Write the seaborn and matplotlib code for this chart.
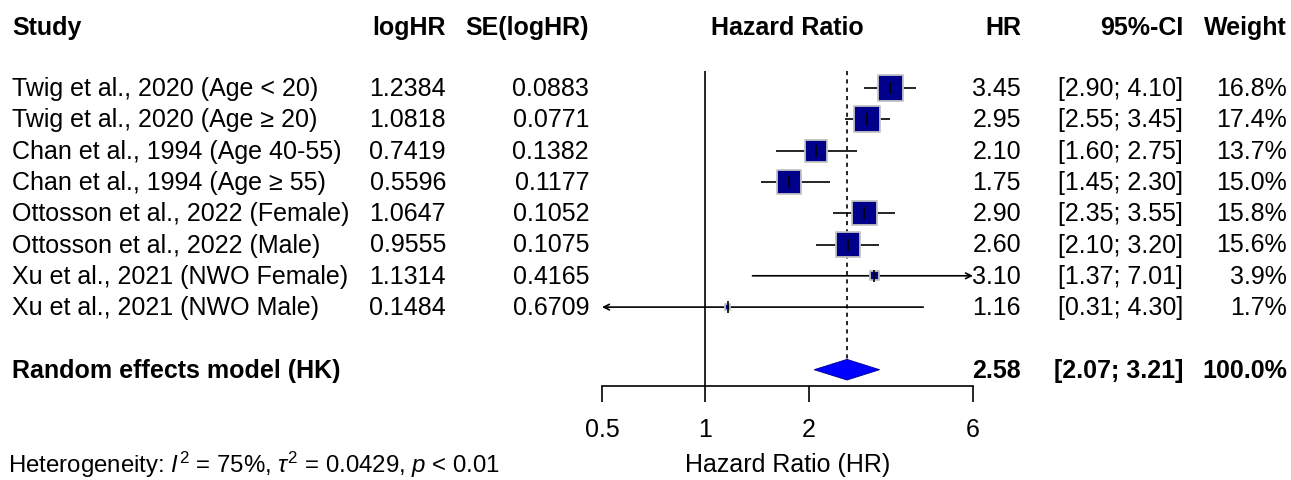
import numpy as np
import pandas as pd
import seaborn as sns
import matplotlib.pyplot as plt
import matplotlib.transforms as mtransforms

studies = ["Twig et al., 2020 (Age < 20)", "Twig et al., 2020 (Age \u2265 20)",
           "Chan et al., 1994 (Age 40-55)", "Chan et al., 1994 (Age \u2265 55)",
           "Ottosson et al., 2022 (Female)", "Ottosson et al., 2022 (Male)",
           "Xu et al., 2021 (NWO Female)", "Xu et al., 2021 (NWO Male)"]
log_hr = ["1.2384", "1.0818", "0.7419", "0.5596", "1.0647", "0.9555", "1.1314", "0.1484"]
se_log_hr = ["0.0883", "0.0771", "0.1382", "0.1177", "0.1052", "0.1075", "0.4165", "0.6709"]
hr = [3.45, 2.95, 2.10, 1.75, 2.90, 2.60, 3.10, 1.16]
ci_lower = [2.90, 2.55, 1.60, 1.45, 2.35, 2.10, 1.37, 0.31]
ci_upper = [4.10, 3.45, 2.75, 2.30, 3.55, 3.20, 7.01, 4.30]
weights = [16.8, 17.4, 13.7, 15.0, 15.8, 15.6, 3.9, 1.7]

pooled_label = "Random effects model (HK)"
pooled_hr = 2.58
pooled_lower = 2.07
pooled_upper = 3.21
x_ticks = [0.5, 1, 2, 6]
x_min, x_max = 0.5, 6

sns.set_style("white")
plt.rcParams['font.family'] = ['Liberation Sans', 'DejaVu Sans']
plt.rcParams['mathtext.fontset'] = 'custom'
plt.rcParams['mathtext.rm'] = 'Liberation Sans'
plt.rcParams['mathtext.it'] = 'Liberation Sans:italic'
plt.rcParams['text.color'] = 'black'
plt.rcParams['axes.labelcolor'] = 'black'
plt.rcParams['xtick.color'] = 'black'
FS = 18

df = pd.DataFrame({"study": studies, "hr": hr, "lo": ci_lower, "hi": ci_upper, "w": weights})
df["row"] = np.arange(1, len(df) + 1)
pooled_row = len(df) + 2

W, H = 1291, 481
fig = plt.figure(figsize=(W / 100, H / 100), dpi=100)
ax = fig.add_axes([602 / W, 0, (973 - 602) / W, 1])
ax.set_xscale("log")
ax.set_xlim(x_min, x_max)
ax.set_ylim(1 + (H - 89) / 31.3, 1 - 89 / 31.3)

# CI lines, arrows where they leave the axis range
for _, r in df.iterrows():
    lo, hi = max(r.lo, x_min), min(r.hi, x_max)
    if r.hi > x_max:
        ax.annotate("", xy=(x_max, r.row), xytext=(lo, r.row),
                    arrowprops=dict(arrowstyle="->", lw=1.2, color="black", shrinkA=0, shrinkB=0))
    elif r.lo < x_min:
        ax.annotate("", xy=(x_min, r.row), xytext=(hi, r.row),
                    arrowprops=dict(arrowstyle="->", lw=1.2, color="black", shrinkA=0, shrinkB=0))
    else:
        ax.hlines(r.row, lo, hi, color="black", lw=1.2)

sizes = 350 * (df["w"] / max(weights)) ** 1.36
sns.scatterplot(data=df, x="hr", y="row", marker="s", s=sizes, color="#00008B",
                edgecolor="#C4C4C4", linewidth=1.3, ax=ax, zorder=3, legend=False)
ax.scatter(df["hr"], df["row"], marker="|", s=70, color="black", lw=1.2, zorder=4)

# reference lines
ax.vlines(1, 0.46, 10.52, color="black", lw=1.2)
ax.vlines(pooled_hr, 0.46, pooled_row - 0.33, color="black", lw=1.2, linestyles=(0, (2.5, 2.5)))

# pooled diamond
ax.fill([pooled_lower, pooled_hr, pooled_upper, pooled_hr],
        [pooled_row, pooled_row - 0.33, pooled_row, pooled_row + 0.33],
        color="#0000FF", edgecolor="#00008B", lw=0.6, zorder=3)

for s in ["top", "right", "left"]:
    ax.spines[s].set_visible(False)
ax.spines["bottom"].set_position(("data", 10.52))
ax.spines["bottom"].set_linewidth(1.2)
ax.spines["bottom"].set_color("black")
ax.set_yticks([])
ax.set_xticks(x_ticks)
ax.set_xticklabels([f"{t:g}" for t in x_ticks], fontsize=FS)
ax.minorticks_off()
ax.tick_params(axis="x", direction="out", length=11.5, width=1.2, pad=10.5, bottom=True)
ax.set_xlabel("Hazard Ratio (HR)", fontsize=FS, labelpad=8)
ax.set_ylabel("")

tr = mtransforms.blended_transform_factory(fig.transFigure, ax.transData)
hy = -0.95
bold = dict(transform=tr, va="center", fontsize=FS, fontweight="bold")
ax.text(12 / W, hy, "Study", ha="left", **bold)
ax.text(446 / W, hy, "logHR", ha="right", **bold)
ax.text(589 / W, hy, "SE(logHR)", ha="right", **bold)
ax.text(787 / W, hy, "Hazard Ratio", ha="center", **bold)
ax.text(1021 / W, hy, "HR", ha="right", **bold)
ax.text(1183 / W, hy, "95%-CI", ha="right", **bold)
ax.text(1287 / W, hy, "Weight", ha="right", **bold)

plain = dict(transform=tr, va="center", fontsize=FS)
for i, r in df.iterrows():
    ax.text(12 / W, r.row, r.study, ha="left", **plain)
    ax.text(446 / W, r.row, log_hr[i], ha="right", **plain)
    ax.text(589 / W, r.row, se_log_hr[i], ha="right", **plain)
    ax.text(1021 / W, r.row, f"{r.hr:.2f}", ha="right", **plain)
    ax.text(1183 / W, r.row, f"[{r.lo:.2f}; {r.hi:.2f}]", ha="right", **plain)
    ax.text(1287 / W, r.row, f"{r.w:.1f}%", ha="right", **plain)

ax.text(12 / W, pooled_row, pooled_label, ha="left", **bold)
ax.text(1021 / W, pooled_row, f"{pooled_hr:.2f}", ha="right", **bold)
ax.text(1183 / W, pooled_row, f"[{pooled_lower:.2f}; {pooled_upper:.2f}]", ha="right", **bold)
ax.text(1287 / W, pooled_row, "100.0%", ha="right", **bold)

ax.text(8 / W, 13.0, r"Heterogeneity: $I^2$ = 75%, $\tau^2$ = 0.0429, $p$ < 0.01", ha="left",
        transform=tr, va="center", fontsize=FS - 0.7)

fig.savefig("out.png", dpi=100)
